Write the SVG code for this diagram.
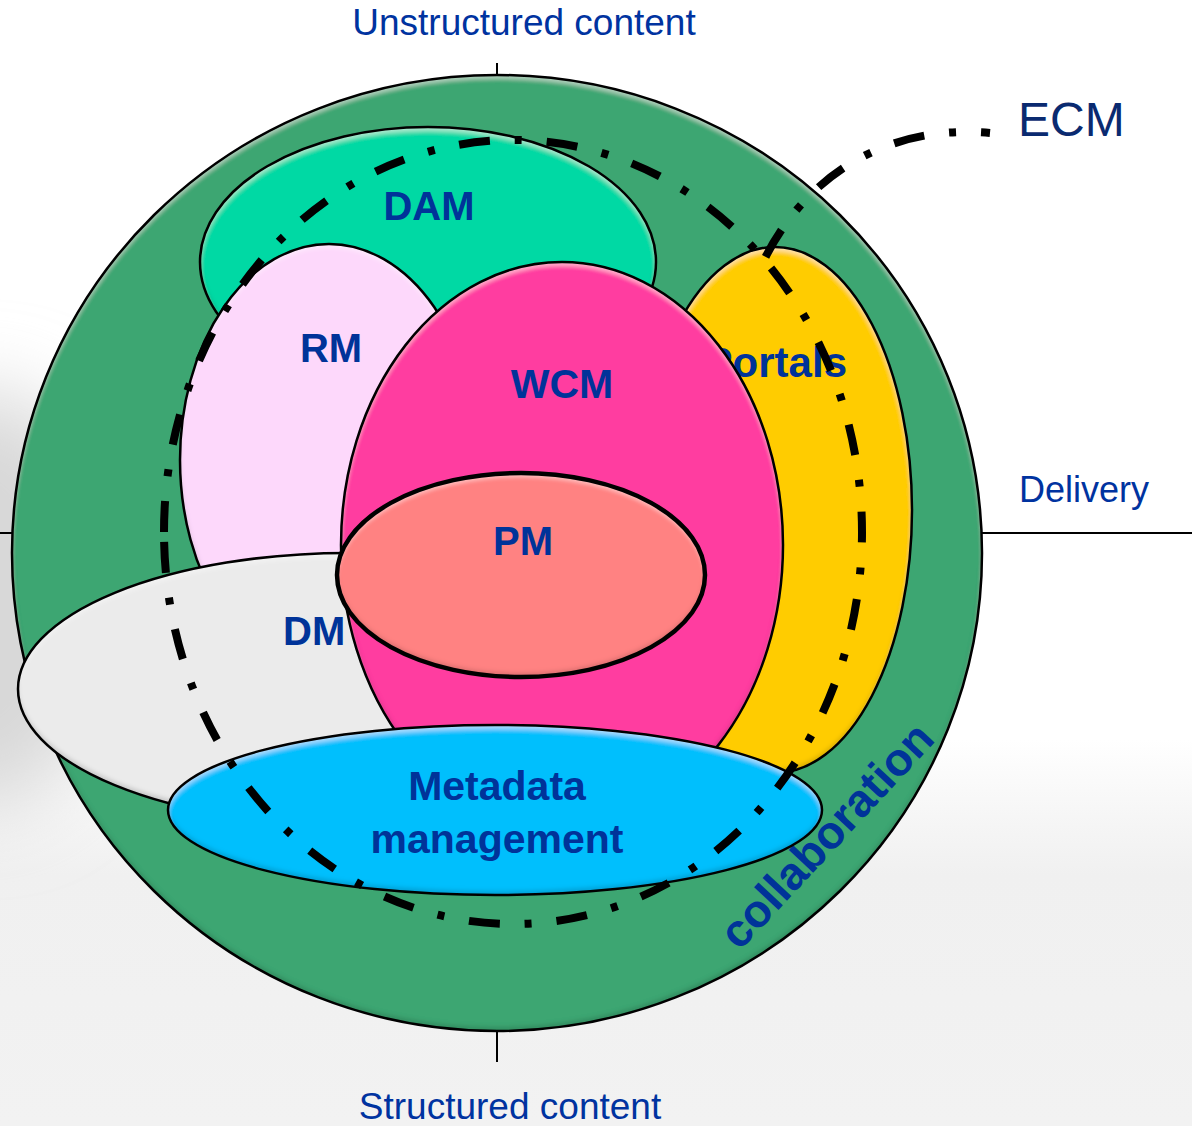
<svg xmlns="http://www.w3.org/2000/svg" width="1192" height="1126" viewBox="0 0 1192 1126">
  <defs>
    <style>
      .outline { fill: none; stroke: #000; stroke-width: 2.5; }
      .lbl { font-family: "Liberation Sans", Arial, sans-serif; font-weight: bold; fill: #003399; }
      .axis-lbl { font-family: "Liberation Sans", Arial, sans-serif; fill: #0033A0; }
      .axis { stroke: #000; stroke-width: 2; }
      .ecm { fill: none; stroke: #000; stroke-width: 8; stroke-dasharray: 31 25 7 25; }
    </style>
    <filter id="bevel" x="-5%" y="-5%" width="110%" height="110%">
      <feGaussianBlur in="SourceAlpha" stdDeviation="2" result="b"/>
      <feOffset in="b" dy="4" result="bd"/>
      <feComposite in="SourceAlpha" in2="bd" operator="out" result="top"/>
      <feFlood flood-color="#ffffff" flood-opacity="0.4"/>
      <feComposite in2="top" operator="in" result="hl"/>
      <feOffset in="b" dy="-4" result="bu"/>
      <feComposite in="SourceAlpha" in2="bu" operator="out" result="bot"/>
      <feFlood flood-color="#000000" flood-opacity="0.3"/>
      <feComposite in2="bot" operator="in" result="sh"/>
      <feMerge>
        <feMergeNode in="SourceGraphic"/>
        <feMergeNode in="hl"/>
        <feMergeNode in="sh"/>
      </feMerge>
    </filter>
    <filter id="soft" x="-50%" y="-50%" width="200%" height="200%">
      <feGaussianBlur stdDeviation="40"/>
    </filter>
    <linearGradient id="bottomFade" x1="0" y1="0" x2="0" y2="1">
      <stop offset="0" stop-color="#eeeeee" stop-opacity="0"/>
      <stop offset="0.35" stop-color="#f0f0f0" stop-opacity="1"/>
      <stop offset="1" stop-color="#f2f2f2" stop-opacity="1"/>
    </linearGradient>
  </defs>

  <!-- background -->
  <rect x="0" y="0" width="1192" height="1126" fill="#ffffff"/>
  <rect x="0" y="740" width="1192" height="386" fill="url(#bottomFade)"/>
  <ellipse cx="-20" cy="600" rx="140" ry="210" fill="#d8d8d8" filter="url(#soft)"/>

  <!-- axes -->
  <g id="axes">
    <line class="axis" x1="497" y1="63" x2="497" y2="77"/>
    <line class="axis" x1="497" y1="1030" x2="497" y2="1062"/>
    <line class="axis" x1="0" y1="533" x2="13" y2="533"/>
    <line class="axis" x1="981" y1="533" x2="1192" y2="533"/>
    <text class="axis-lbl" x="524" y="35" font-size="37" text-anchor="middle">Unstructured content</text>
    <text class="axis-lbl" x="510" y="1119" font-size="37" text-anchor="middle">Structured content</text>
    <text class="axis-lbl" x="1019" y="502" font-size="36">Delivery</text>
  </g>

  <!-- outer collaboration circle -->
  <g id="node-collaboration">
    <ellipse cx="497" cy="553" rx="485" ry="478" fill="#3DA672" filter="url(#bevel)"/>
    <ellipse class="outline" cx="497" cy="553" rx="485" ry="478"/>
    <text class="lbl" x="838" y="846" font-size="46" text-anchor="middle" transform="rotate(-47 838 846)">collaboration</text>
  </g>

  <g id="node-dam">
    <ellipse cx="428" cy="262" rx="228" ry="135" fill="#04D9A4" filter="url(#bevel)"/>
    <ellipse class="outline" cx="428" cy="262" rx="228" ry="135"/>
    <text class="lbl" x="429" y="220" font-size="40" text-anchor="middle">DAM</text>
  </g>

  <g id="node-rm">
    <ellipse cx="329" cy="460" rx="149" ry="216" fill="#FDD8FB" filter="url(#bevel)"/>
    <ellipse class="outline" cx="329" cy="460" rx="149" ry="216"/>
    <text class="lbl" x="331" y="362" font-size="40" text-anchor="middle">RM</text>
  </g>

  <g id="node-dm">
    <ellipse cx="348" cy="689" rx="330" ry="136" fill="#EBEBEB" filter="url(#bevel)"/>
    <ellipse class="outline" cx="348" cy="689" rx="330" ry="136"/>
    <text class="lbl" x="283" y="645" font-size="40">DM</text>
  </g>

  <g id="node-portals">
    <ellipse cx="775" cy="510" rx="137" ry="263" fill="#FFCC00" filter="url(#bevel)"/>
    <ellipse class="outline" cx="775" cy="510" rx="137" ry="263"/>
    <text class="lbl" x="847" y="377" font-size="42" text-anchor="end">Portals</text>
  </g>

  <g id="node-wcm">
    <ellipse cx="562" cy="545" rx="221" ry="283" fill="#FF3CA0" filter="url(#bevel)"/>
    <ellipse class="outline" cx="562" cy="545" rx="221" ry="283"/>
    <text class="lbl" x="562" y="398" font-size="41" text-anchor="middle">WCM</text>
  </g>

  <g id="node-pm">
    <ellipse cx="521" cy="575" rx="184" ry="102" fill="#FF8282" filter="url(#bevel)"/>
    <ellipse class="outline" cx="521" cy="575" rx="184" ry="102" style="stroke-width:4.5"/>
    <text class="lbl" x="523" y="555" font-size="40" text-anchor="middle">PM</text>
  </g>

  <g id="node-metadata">
    <ellipse cx="495" cy="810" rx="327" ry="85" fill="#05BFFD" filter="url(#bevel)"/>
    <ellipse class="outline" cx="495" cy="810" rx="327" ry="85"/>
    <text class="lbl" x="497" y="800" font-size="41" text-anchor="middle">Metadata</text>
    <text class="lbl" x="497" y="853" font-size="41" text-anchor="middle">management</text>
  </g>

  <!-- ECM boundary -->
  <g id="connectors">
    <path class="ecm" d="M 164 532 A 349 392 0 1 1 862 532 A 349 392 0 1 1 164 532 Z"/>
    <path class="ecm" d="M 990 133 C 905 125 815 160 765 258" style="stroke-dashoffset:22"/>
  </g>

  <g id="node-ecm">
    <text x="1018" y="136" font-size="48" font-family="Liberation Sans, Arial, sans-serif" fill="#0A2A70">ECM</text>
  </g>
</svg>
